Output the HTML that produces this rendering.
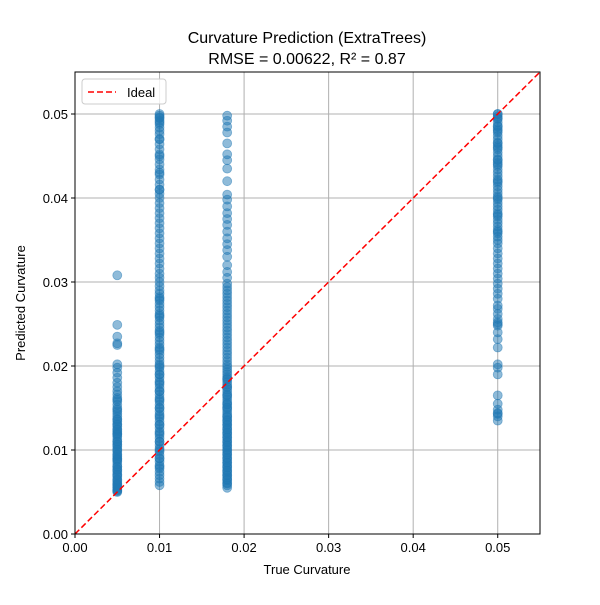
<!DOCTYPE html>
<html><head><meta charset="utf-8"><style>
body{margin:0;background:#fff;font-family:"Liberation Sans","DejaVu Sans",sans-serif;}
</style></head><body>
<svg id="chart" width="600" height="600" xmlns="http://www.w3.org/2000/svg">
<rect width="600" height="600" fill="#fff"/>
<text x="307" y="43" font-size="16" text-anchor="middle">Curvature Prediction (ExtraTrees)</text>
<text x="307" y="64" font-size="16" text-anchor="middle">RMSE = 0.00622, R² = 0.87</text>
<g id="grid"></g>
<g id="ticks"></g>
<g id="points"></g>
<line id="ideal" stroke="red" stroke-width="1.5" stroke-dasharray="6,3"/>
<rect x="75" y="72" width="465" height="462" fill="none" stroke="#000" stroke-width="1"/>
<g>
<rect x="82" y="79" width="84" height="25" rx="3" fill="#fff" fill-opacity="0.8" stroke="#ccc"/>
<line x1="88" y1="92" x2="116" y2="92" stroke="red" stroke-width="1.5" stroke-dasharray="6,3"/>
<text x="127" y="97" font-size="13">Ideal</text>
</g>
<text x="307" y="574" font-size="13" text-anchor="middle">True Curvature</text>
<text x="0" y="0" font-size="13" text-anchor="middle" transform="translate(25,303) rotate(-90)">Predicted Curvature</text>
</svg>
<script>
const xTicks=[0,0.01,0.02,0.03,0.04,0.05];
const xTickLabels=["0.00","0.01","0.02","0.03","0.04","0.05"];
const yTicks=[0,0.01,0.02,0.03,0.04,0.05];
const yTickLabels=["0.00","0.01","0.02","0.03","0.04","0.05"];
const trueVals=[0.005,0.01,0.018,0.05];
const predA=[0.0050,0.0051,0.0053,0.0055,0.0056,0.0059,0.0062,0.0065,0.0068,0.0071,0.0074,0.0077,0.0080,0.0083,0.0086,0.0089,0.0092,0.0095,0.0098,0.0101,0.0104,0.0107,0.0110,0.0113,0.0116,0.0119,0.0122,0.0125,0.0128,0.0131,0.0134,0.0137,0.0140,0.0143,0.0146,0.0150,0.0154,0.0158,0.0162,0.0166,0.0170,0.0175,0.0180,0.0186,0.0192,0.0198,0.0202,0.0225,0.0227,0.0235,0.0249,0.0308,0.0060,0.0070,0.0080,0.0090,0.0100,0.0110,0.0120,0.0130,0.0052,0.0058,0.0064,0.0076,0.0088,0.0094,0.0106,0.0118,0.0124,0.0136,0.0148,0.0160];
const predB=[0.0058,0.0062,0.0066,0.0070,0.0074,0.0078,0.0082,0.0086,0.0090,0.0094,0.0098,0.0102,0.0106,0.0110,0.0114,0.0118,0.0122,0.0126,0.0130,0.0134,0.0138,0.0142,0.0146,0.0150,0.0154,0.0158,0.0162,0.0166,0.0170,0.0174,0.0178,0.0182,0.0186,0.0190,0.0194,0.0198,0.0202,0.0206,0.0210,0.0214,0.0218,0.0222,0.0226,0.0230,0.0234,0.0238,0.0242,0.0246,0.0250,0.0254,0.0258,0.0262,0.0266,0.0270,0.0274,0.0278,0.0282,0.0286,0.0290,0.0295,0.0300,0.0305,0.0310,0.0316,0.0322,0.0328,0.0334,0.0340,0.0346,0.0352,0.0358,0.0364,0.0370,0.0376,0.0382,0.0388,0.0394,0.0400,0.0405,0.0410,0.0416,0.0422,0.0428,0.0434,0.0440,0.0446,0.0452,0.0458,0.0464,0.0470,0.0476,0.0480,0.0484,0.0488,0.0492,0.0495,0.0498,0.0500,0.0080,0.0100,0.0120,0.0140,0.0160,0.0180,0.0200,0.0090,0.0110,0.0130,0.0150,0.0170,0.0190,0.0220,0.0240,0.0260,0.0280,0.0410,0.0430,0.0450,0.0470,0.0490,0.0496];
const predC=[0.0055,0.0058,0.0061,0.0064,0.0067,0.0070,0.0073,0.0076,0.0079,0.0082,0.0085,0.0088,0.0091,0.0094,0.0097,0.0100,0.0103,0.0106,0.0109,0.0112,0.0115,0.0118,0.0121,0.0124,0.0127,0.0130,0.0133,0.0136,0.0139,0.0142,0.0145,0.0148,0.0151,0.0154,0.0157,0.0160,0.0163,0.0166,0.0169,0.0172,0.0175,0.0178,0.0181,0.0184,0.0187,0.0190,0.0193,0.0196,0.0199,0.0202,0.0206,0.0210,0.0214,0.0218,0.0222,0.0226,0.0230,0.0234,0.0238,0.0242,0.0246,0.0250,0.0254,0.0258,0.0262,0.0266,0.0270,0.0274,0.0278,0.0282,0.0286,0.0290,0.0294,0.0298,0.0305,0.0312,0.0320,0.0330,0.0338,0.0345,0.0352,0.0360,0.0368,0.0375,0.0382,0.0390,0.0398,0.0404,0.0420,0.0435,0.0445,0.0452,0.0465,0.0478,0.0485,0.0492,0.0498,0.0060,0.0070,0.0080,0.0090,0.0100,0.0110,0.0120,0.0130,0.0140,0.0150,0.0065,0.0075,0.0085,0.0095,0.0105,0.0115,0.0125,0.0135,0.0155,0.0165,0.0175,0.0185];
const predD=[0.0135,0.0140,0.0144,0.0148,0.0155,0.0165,0.0190,0.0198,0.0202,0.0222,0.0232,0.0240,0.0248,0.0252,0.0256,0.0262,0.0268,0.0272,0.0280,0.0286,0.0292,0.0298,0.0304,0.0310,0.0316,0.0322,0.0328,0.0334,0.0340,0.0346,0.0350,0.0354,0.0358,0.0362,0.0366,0.0370,0.0374,0.0378,0.0382,0.0386,0.0390,0.0394,0.0398,0.0402,0.0406,0.0410,0.0414,0.0418,0.0422,0.0426,0.0430,0.0434,0.0438,0.0442,0.0446,0.0450,0.0454,0.0458,0.0462,0.0466,0.0470,0.0474,0.0478,0.0482,0.0486,0.0490,0.0494,0.0497,0.0500,0.0420,0.0440,0.0460,0.0480,0.0500,0.0143,0.0250,0.0360,0.0380,0.0400,0.0445,0.0465,0.0485,0.0495];
const preds=[predA,predB,predC,predD];
const NS="http://www.w3.org/2000/svg";
const X0=75,X1=540,Y0=534,Y1=72,MAX=0.055;
function sx(v){return X0+(X1-X0)*v/MAX;}
function sy(v){return Y0-(Y0-Y1)*v/MAX;}
const grid=document.getElementById('grid'),ticks=document.getElementById('ticks'),pts=document.getElementById('points');
function mk(t,a,p){const e=document.createElementNS(NS,t);for(const k in a)e.setAttribute(k,a[k]);p.appendChild(e);return e;}
xTicks.forEach((v,i)=>{
 const g=mk('line',{x1:sx(v),x2:sx(v),y1:Y0,y2:Y1,stroke:'#b0b0b0','stroke-width':1},grid);
 
 
 const t=mk('line',{x1:sx(v),x2:sx(v),y1:Y0,y2:Y0+4,stroke:'#000'},ticks);
 
 
 const l=mk('text',{x:sx(v),y:Y0+18,'font-size':13,'text-anchor':'middle'},ticks);
 l.textContent=xTickLabels[i];
 
 
});
yTicks.forEach((v,i)=>{
 const g=mk('line',{x1:X0,x2:X1,y1:sy(v),y2:sy(v),stroke:'#b0b0b0','stroke-width':1},grid);
 
 
 const t=mk('line',{x1:X0-4,x2:X0,y1:sy(v),y2:sy(v),stroke:'#000'},ticks);
 
 
 const l=mk('text',{x:X0-7,y:sy(v)+5,'font-size':13,'text-anchor':'end'},ticks);
 l.textContent=yTickLabels[i];
 
 
});
preds.forEach((arr,ci)=>{arr.forEach(p=>{
 const c=mk('circle',{cx:sx(trueVals[ci]),cy:sy(p),r:4.5,fill:'#1f77b4','fill-opacity':0.5,stroke:'#1f77b4','stroke-opacity':0.5,'stroke-width':0.8},pts);
 
 
});});
const id=document.getElementById('ideal');
id.setAttribute('x1',sx(0));id.setAttribute('y1',sy(0));id.setAttribute('x2',sx(MAX));id.setAttribute('y2',sy(MAX));
</script>
</body></html>
